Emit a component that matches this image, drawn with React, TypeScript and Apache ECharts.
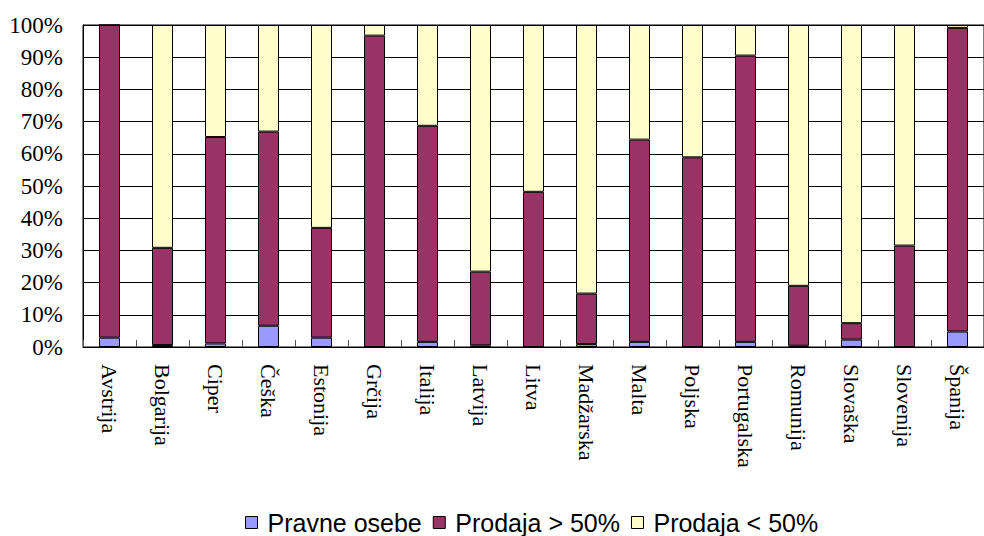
import React, { useEffect, useRef } from "react";
import * as echarts from "echarts";

const categories = [
  "Avstrija", "Bolgarija", "Ciper", "Češka", "Estonija", "Grčija", "Italija",
  "Latvija", "Litva", "Madžarska", "Malta", "Poljska", "Portugalska",
  "Romunija", "Slovaška", "Slovenija", "Španija",
];

const pravneOsebe = [2.9, 0.6, 1.1, 6.6, 2.9, 0, 1.6, 0.5, 0, 0.9, 1.6, 0, 1.6, 0.4, 2.3, 0, 4.8];
const prodajaVec = [97.1, 30.2, 64.1, 60.3, 34.1, 96.7, 67.1, 22.9, 48.2, 15.7, 62.8, 58.9, 88.9, 18.6, 5.1, 31.5, 94.3];
const prodajaManj = [0, 69.2, 34.8, 33.1, 63.0, 3.3, 31.3, 76.6, 51.8, 83.4, 35.6, 41.1, 9.5, 81.0, 92.6, 68.5, 0.9];

const seriesNames = ["Pravne osebe", "Prodaja > 50%", "Prodaja < 50%"];
const seriesColors = ["#9999FF", "#993366", "#FFFFCC"];

export default function App() {
  const ref = useRef<HTMLDivElement>(null);

  useEffect(() => {
    if (!ref.current) return;
    const chart = echarts.init(ref.current, null, { renderer: "svg" });
    const dataSets = [pravneOsebe, prodajaVec, prodajaManj];
    chart.setOption({
      animation: false,
      backgroundColor: "#ffffff",
      grid: {
        left: 83,
        right: -12,
        top: 25,
        bottom: 189,
        show: true,
        borderColor: "#000",
        borderWidth: 1,
        backgroundColor: "#fff",
      },
      legend: {
        data: seriesNames,
        left: 240,
        top: 504,
        icon: "rect",
        itemWidth: 12,
        itemHeight: 12,
        itemGap: 11,
        itemStyle: { borderColor: "#000", borderWidth: 1 },
        textStyle: {
          fontFamily: "Liberation Sans",
          fontSize: 25,
          lineHeight: 27,
          color: "#000",
          padding: [0, 0, 0, 5],
        },
      },
      xAxis: {
        type: "category",
        data: categories,
        axisLine: { show: true, lineStyle: { color: "#000", width: 1 } },
        axisTick: { show: true, inside: true, length: 7, lineStyle: { color: "#555" } },
        axisLabel: {
          rotate: -90,
          margin: 17,
          fontFamily: "Liberation Serif",
          fontSize: 22,
          color: "#000",
          interval: 0,
        },
      },
      yAxis: {
        type: "value",
        min: 0,
        max: 100,
        interval: 10,
        axisLine: { show: true, lineStyle: { color: "#000", width: 1 } },
        axisTick: { show: false },
        splitLine: { show: true, lineStyle: { color: "#000", width: 1 } },
        axisLabel: {
          formatter: "{value}%",
          margin: 20,
          fontFamily: "Liberation Serif",
          fontSize: 23,
          color: "#000",
        },
      },
      series: seriesNames.map((name, i) => ({
        name,
        type: "bar",
        stack: "total",
        barWidth: 21,
        data: dataSets[i],
        itemStyle: { color: seriesColors[i], borderColor: "#000", borderWidth: 1 },
      })),
    });
    return () => chart.dispose();
  }, []);

  return (
    <div
      ref={ref}
      style={{ position: "absolute", left: 0, top: 0, width: 984, height: 536 }}
    />
  );
}
